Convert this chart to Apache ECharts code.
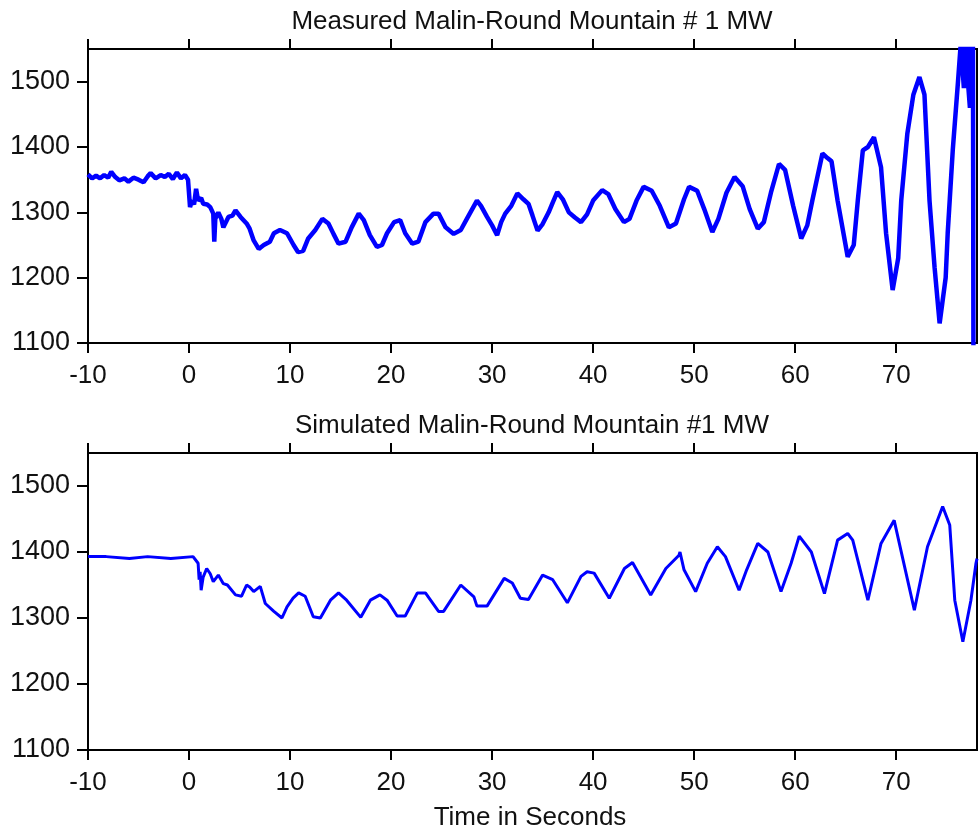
<!DOCTYPE html>
<html>
<head>
<meta charset="utf-8">
<script src="https://cdn.jsdelivr.net/npm/echarts@6/dist/echarts.min.js"></script>
<style>
  html, body { margin: 0; padding: 0; background: #fff; }
  #chart { width: 979px; height: 831px; }
</style>
</head>
<body>
<div id="chart"></div>
<script>
// ---- Data ----
const titleTop = "Measured Malin-Round Mountain # 1 MW";
const titleBottom = "Simulated Malin-Round Mountain #1 MW";
const xAxisTitle = "Time in Seconds";

const xTicks = [-10, 0, 10, 20, 30, 40, 50, 60, 70];
const yTicks = [1100, 1200, 1300, 1400, 1500];

const measuredT = [
  -10, -9.6, -9.2, -8.8, -8.4, -8.0, -7.7, -7.3, -6.9, -6.4, -6.0, -5.5, -5.0, -4.5, -4.1, -3.8, -3.3, -2.8, -2.4, -2.0, -1.6, -1.2, -0.8, -0.4, -0.1,
  0.1, 0.3, 0.5, 0.7, 0.9, 1.2, 1.4, 1.8, 2.1, 2.4, 2.5, 2.6, 2.9, 3.2, 3.4, 3.9, 4.3, 4.6, 5.1, 5.7, 6.0, 6.4, 6.9, 7.4, 8.0, 8.4, 9.0, 9.7,
  10.35, 10.8, 11.3, 11.8, 12.5, 13.2, 13.8, 14.3, 14.8, 15.5, 16.1, 16.8, 17.3, 17.9, 18.6, 19.1, 19.6,
  20.3, 20.9, 21.4, 22.1, 22.7, 23.4, 24.2, 24.7, 25.4, 26.2, 26.9, 27.5, 28.5, 28.9, 29.5,
  30.0, 30.5, 30.9, 31.3, 31.9, 32.5, 33.1, 33.6, 34.0, 34.5, 35.0, 35.6, 36.0, 36.45, 37.0, 37.6, 38.2, 38.8, 39.4,
  40.0, 40.9, 41.5, 42.2, 43.05, 43.6, 44.3, 45.0, 45.8, 46.6, 47.5, 48.2, 49.0, 49.5,
  50.3, 51.0, 51.8, 52.4, 53.2, 54.0, 54.8, 55.5, 56.3, 56.9, 57.6, 58.4, 59.0, 59.8,
  60.6, 61.2, 61.7, 62.7, 63.2, 63.6, 64.2, 65.2, 65.8, 66.2, 66.7, 67.2, 67.8, 68.5, 69.0, 69.65,
  70.2, 70.5, 71.1, 71.7, 72.3, 72.8, 73.3, 73.8, 74.3, 74.9, 75.1, 75.6, 76.1, 76.4, 76.7, 76.9, 77.1, 77.3, 77.4, 77.6, 77.65
];
const measuredV = [
  1358, 1352, 1356, 1352, 1357, 1353, 1362, 1354, 1349, 1352, 1347, 1353, 1350, 1346, 1355, 1360, 1352, 1357, 1354, 1359, 1351, 1361, 1352, 1357, 1350,
  1308, 1318, 1312, 1336, 1318, 1322, 1313, 1312, 1308, 1298, 1255, 1290, 1300, 1290, 1277, 1293, 1295, 1303, 1293, 1283, 1275, 1257, 1244, 1250, 1255, 1268, 1273, 1268,
  1250, 1239, 1241, 1260, 1273, 1290, 1283, 1267, 1252, 1255, 1277, 1298, 1288, 1265, 1247, 1250, 1268,
  1285, 1288, 1268, 1252, 1255, 1285, 1298, 1298, 1277, 1267, 1273, 1290, 1318, 1310, 1293,
  1280, 1265, 1285, 1298, 1310, 1329, 1320, 1313, 1295, 1272, 1282, 1300, 1315, 1331, 1320, 1300, 1292, 1285, 1297,
  1318, 1334, 1328, 1305, 1285, 1290, 1318, 1339, 1333, 1310, 1277, 1283, 1320, 1339,
  1333, 1305, 1270, 1290, 1330, 1354, 1340, 1305, 1275, 1285, 1330, 1374, 1365, 1310,
  1260, 1280, 1318, 1390, 1383, 1378, 1318, 1232, 1250, 1318, 1395, 1400, 1415, 1369, 1268, 1181,
  1230, 1318, 1420, 1480, 1507, 1480, 1318, 1216, 1130, 1200, 1268, 1395, 1496, 1560, 1490, 1580, 1500, 1460, 1570, 1560, 1050
];

const simulatedT = [
  -10, -8.2, -8.1, -5.9, -5.8, -4.1, -4.0, -1.8, -1.7, 0.4, 0.5, 0.9, 1.0, 1.1, 1.2, 1.4, 1.75, 2.1, 2.4, 2.9, 3.4, 3.8, 4.6, 5.2, 5.7, 6.0, 6.4, 7.05, 7.55, 8.4, 9.2, 9.7,
  10.3, 10.85, 11.5, 12.3, 13.0, 14.0, 14.8, 15.6, 17.0, 17.95, 18.9, 19.6,
  20.6, 21.4, 22.6, 23.4, 24.7, 25.2, 26.9, 28.2, 28.5, 29.5,
  31.2, 32.0, 32.8, 33.6, 35.0, 36.0, 37.45, 38.8, 39.4,
  40.1, 41.6, 43.1, 43.9, 45.7, 47.2, 48.5, 48.6, 49.0,
  50.15, 51.3, 52.3, 53.1, 54.45, 55.2, 56.3, 57.3, 58.6, 59.6,
  60.4, 61.6, 62.9, 64.2, 65.2, 65.7, 67.2, 68.5, 69.8,
  71.8, 73.1, 74.6, 75.3, 75.8, 76.6, 77.4, 77.9, 78
];
const simulatedV = [
  1393, 1393, 1390, 1390, 1393, 1393, 1390, 1390, 1393, 1393, 1390, 1383, 1358, 1370, 1342, 1362, 1375, 1367, 1355, 1365, 1352, 1350, 1335, 1333, 1350, 1347, 1340, 1348, 1322, 1310, 1300, 1317,
  1330, 1338, 1333, 1302, 1300, 1327, 1338, 1327, 1301, 1327, 1335, 1327,
  1303, 1303, 1338, 1338, 1310, 1310, 1350, 1332, 1318, 1318,
  1360, 1353, 1330, 1328, 1365, 1358, 1323, 1363, 1370,
  1368, 1330, 1375, 1384, 1335, 1375, 1395, 1400, 1373,
  1340, 1383, 1408, 1393, 1342, 1373, 1413, 1400, 1340, 1383,
  1424, 1400, 1337, 1418, 1428, 1418, 1327, 1413, 1448,
  1312, 1408, 1469, 1441, 1327, 1264, 1327, 1383, 1390
];

// ---- Chart ----
const FONT = "'Liberation Sans', Arial, sans-serif";
const TXT = '#111';
const toPairs = (t, v) => t.map((x, i) => [x, v[i]]);
const plain = v => String(v);

function xBottom(gi) {
  return {
    type: 'value', gridIndex: gi, position: 'bottom', min: -10, max: 78, interval: 10,
    axisLine: { show: false, onZero: false },
    axisTick: { show: true, inside: false, length: 10, customValues: xTicks, lineStyle: { color: '#000', width: 2 } },
    axisLabel: { show: true, customValues: xTicks, formatter: plain, margin: 20, color: TXT, fontSize: 26, fontFamily: FONT },
    splitLine: { show: false }
  };
}
function xTop(gi) {
  return {
    type: 'value', gridIndex: gi, position: 'top', min: -10, max: 78, interval: 10,
    axisLine: { show: false, onZero: false },
    axisTick: { show: true, inside: false, length: 10, customValues: xTicks, lineStyle: { color: '#000', width: 2 } },
    axisLabel: { show: false },
    splitLine: { show: false }
  };
}
function yLeft(gi) {
  return {
    type: 'value', gridIndex: gi, position: 'left', min: 1100, max: 1550, interval: 100,
    axisLine: { show: false, onZero: false },
    axisTick: { show: true, inside: false, length: 11, customValues: yTicks, lineStyle: { color: '#000', width: 2 } },
    axisLabel: { show: true, customValues: yTicks, formatter: plain, margin: 18, color: TXT, fontSize: 27, fontFamily: FONT },
    splitLine: { show: false }
  };
}

const chart = echarts.init(document.getElementById('chart'), null, { renderer: 'canvas' });
chart.setOption({
  animation: false,
  backgroundColor: '#fff',
  title: [
    { text: titleTop, left: 532, top: 9, textAlign: 'center', padding: 0,
      textStyle: { fontSize: 26, fontWeight: 'normal', color: TXT, fontFamily: FONT } },
    { text: titleBottom, left: 532, top: 413, textAlign: 'center', padding: 0,
      textStyle: { fontSize: 26, fontWeight: 'normal', color: TXT, fontFamily: FONT } },
    { text: xAxisTitle, left: 530, top: 805, textAlign: 'center', padding: 0,
      textStyle: { fontSize: 26, fontWeight: 'normal', color: TXT, fontFamily: FONT } }
  ],
  grid: [
    { left: 88, top: 49, width: 889, height: 294, show: true, borderColor: '#000', borderWidth: 2, backgroundColor: 'transparent' },
    { left: 88, top: 453, width: 889, height: 297, show: true, borderColor: '#000', borderWidth: 2, backgroundColor: 'transparent' }
  ],
  xAxis: [xBottom(0), xTop(0), xBottom(1), xTop(1)],
  yAxis: [yLeft(0), yLeft(1)],
  series: [
    { type: 'line', xAxisIndex: 0, yAxisIndex: 0, data: toPairs(measuredT, measuredV),
      showSymbol: false, symbol: 'none', clip: true, lineStyle: { color: '#0000ff', width: 4.5 } },
    { type: 'line', xAxisIndex: 2, yAxisIndex: 1, data: toPairs(simulatedT, simulatedV),
      showSymbol: false, symbol: 'none', clip: true, lineStyle: { color: '#0000ff', width: 3 } }
  ]
});
</script>
</body>
</html>
